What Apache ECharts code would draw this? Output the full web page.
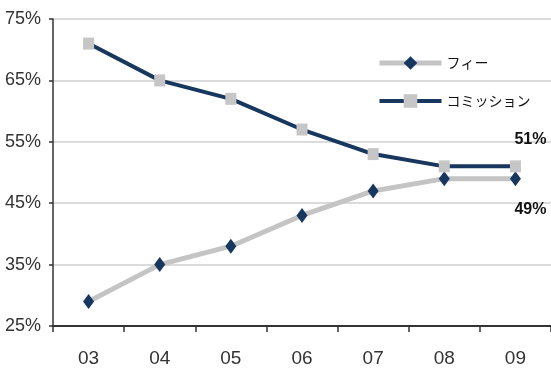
<!DOCTYPE html>
<html>
<head>
<meta charset="utf-8">
<script src="https://cdn.jsdelivr.net/npm/echarts@6/dist/echarts.min.js"></script>
<style>
  html, body { margin: 0; padding: 0; background: #fff; }
  #chart { width: 551px; height: 376px; }
</style>
</head>
<body>
<div id="chart"></div>
<script>
// Fiscal years (two-digit) on the category axis
const years = ['03', '04', '05', '06', '07', '08', '09'];
// Revenue mix, percent of total
const feeShare = [29, 35, 38, 43, 47, 49, 49];
const commissionShare = [71, 65, 62, 57, 53, 51, 51];
const seriesNames = ['フィー', 'コミッション'];
// Value axis range
const yMin = 25, yMax = 75, yStep = 10;

const NAVY = '#17375e';
const GRAY_LINE = '#c4c4c4';
const GRAY_MARK = '#c6c6c6';
const SANS = '"Liberation Sans", Arial, sans-serif';
const CJK = '"Noto Sans CJK JP", "Noto Sans", sans-serif';

// Only the final point of each series carries a value label
function withEndLabel(values, offset) {
  return values.map((v, i) => i === values.length - 1
    ? { value: v, label: { show: true, position: 'inside', offset: offset,
        formatter: '{c}%', fontFamily: SANS, fontWeight: 'bold',
        fontSize: 16, color: '#111' } }
    : v);
}

const chart = echarts.init(document.getElementById('chart'), null, { renderer: 'canvas' });
chart.setOption({
  animation: false,
  backgroundColor: '#fff',
  grid: { left: 53, right: 0, top: 19, bottom: 50 },
  legend: {
    orient: 'vertical',
    left: 372,
    top: 51,
    itemWidth: 62,
    itemHeight: 17,
    itemGap: 24,
    textStyle: { fontFamily: CJK, fontSize: 14, color: '#111' },
    data: [
      { name: seriesNames[0], lineStyle: { width: 5, color: GRAY_LINE }, itemStyle: { color: NAVY } },
      { name: seriesNames[1], lineStyle: { width: 4, color: NAVY }, itemStyle: { color: GRAY_MARK } }
    ]
  },
  xAxis: {
    type: 'category',
    data: years,
    boundaryGap: true,
    axisLine: { lineStyle: { color: '#333', width: 2 } },
    axisTick: { show: true, length: 6, lineStyle: { color: '#333', width: 1.5 } },
    axisLabel: { fontFamily: SANS, fontSize: 19, color: '#333', margin: 23 }
  },
  yAxis: {
    type: 'value',
    min: yMin,
    max: yMax,
    interval: yStep,
    axisLine: { show: true, lineStyle: { color: '#333', width: 1.5 } },
    axisTick: { show: true, length: 4, lineStyle: { color: '#333', width: 1.5 } },
    axisLabel: { formatter: '{value}%', fontFamily: SANS, fontSize: 18, color: '#333', margin: 12 },
    splitLine: { lineStyle: { color: '#cfcfcf', width: 1.5 } }
  },
  series: [
    {
      name: seriesNames[0],
      type: 'line',
      data: withEndLabel(feeShare, [15, 31]),
      symbol: 'diamond',
      symbolSize: [11, 15],
      lineStyle: { color: GRAY_LINE, width: 5 },
      itemStyle: { color: NAVY, borderWidth: 0 },
      z: 2
    },
    {
      name: seriesNames[1],
      type: 'line',
      data: withEndLabel(commissionShare, [15, -27]),
      symbol: 'rect',
      symbolSize: [11, 12],
      lineStyle: { color: NAVY, width: 4 },
      itemStyle: { color: GRAY_MARK, borderWidth: 0 },
      z: 3
    }
  ]
});
</script>
</body>
</html>
